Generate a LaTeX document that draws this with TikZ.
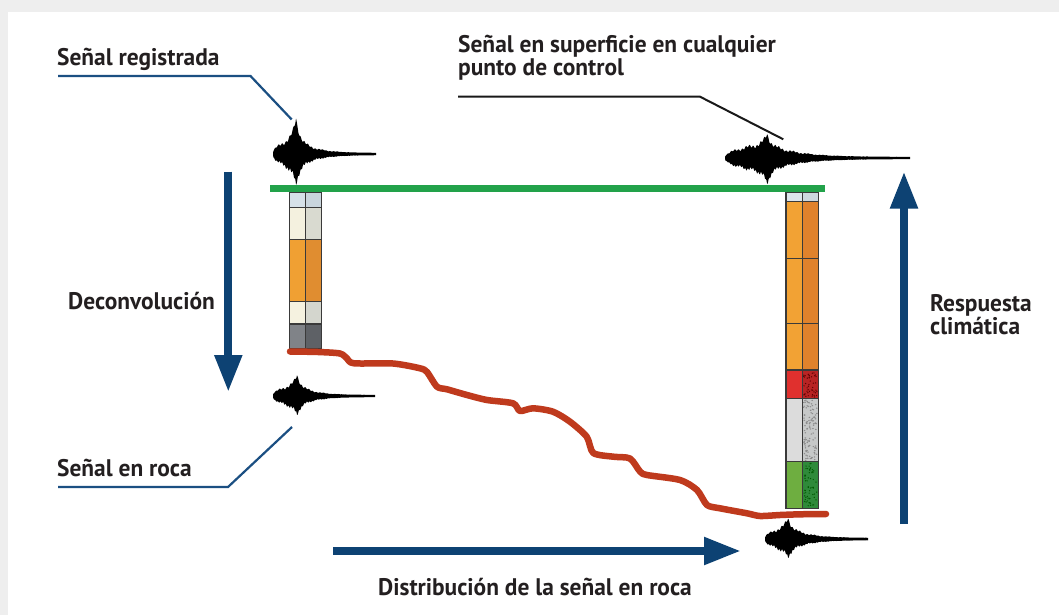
\documentclass[tikz,border=0pt]{standalone}
\usepackage{fontspec}
\usetikzlibrary{arrows.meta}
\newfontfamily\labfont{PT Sans}[FakeStretch=0.975]

\definecolor{pagegray}{HTML}{EEEEEE}
\definecolor{txt}{HTML}{231F20}
\definecolor{navy}{HTML}{0D4273}
\definecolor{leadblue}{HTML}{1B4F82}
\definecolor{surf}{HTML}{22A24A}
\definecolor{rock}{HTML}{BF3A1D}
\definecolor{cellline}{HTML}{3A3A3A}

\tikzset{
  lab/.style={inner sep=0pt, text=txt, align=left,
    font=\labfont\bfseries\fontsize{24}{22.5}\selectfont},
  leader/.style={draw=leadblue, line width=2.2pt},
  leaderk/.style={draw=black!90, line width=2pt},
  bigarrow/.style={draw=navy, line width=8pt,
    -{Triangle[width=26pt,length=37pt]}},
  cell/.style={draw=cellline, line width=1.2pt},
}

% seismogram: #1 centre x, #2 centre y, #3 left extent, #4 tail end (x),
% #5 body amplitude, #6 decay length, #7 spike up, #8 spike down
\newcommand\seismo[8]{%
  \fill[black]
    plot[domain=-#3:#4-#1, samples=260, variable=\u]
      ({#1+\u},{#2-((#5)*min(sqrt(max(0,1+\u/#3)),exp(-max(0,\u)/#6))
        *(0.8+0.2*sin(37*\u)*cos(61*\u))
        + (#7)*exp(-min(40,abs(\u)/3.6)) + 1.1)})
    -- plot[domain=#4-#1:-#3, samples=260, variable=\u]
      ({#1+\u},{#2+((#5)*min(sqrt(max(0,1+\u/#3)),exp(-max(0,\u)/#6))
        *(0.8+0.2*cos(53*\u)*sin(83*\u))
        + (#8)*exp(-min(40,abs(\u)/3.6)) + 1.1)})
    -- cycle;}

\begin{document}
\begin{tikzpicture}[x=1pt,y=-1pt]
\useasboundingbox (0,0) rectangle (1059,615);
\fill[pagegray] (0,0) rectangle (1059,615);
\fill[white] (8,12) rectangle (1059,615);

% ---- left borehole column
\foreach \ya/\yb/\cl/\cr in {192.7/207.3/D6E1E8/C9D5DD,
    207.3/239.3/F4F1DF/D9DAD0, 239.3/301.7/F0A033/E08D30,
    301.7/324/F5F2E0/D4D6CE, 324/348.3/808388/5E6166}{
  \definecolor{cl}{HTML}{\cl}\definecolor{cr}{HTML}{\cr}
  \fill[cl] (289.3,\ya) rectangle (305.7,\yb);
  \fill[cr] (305.7,\ya) rectangle (321.7,\yb);
  \draw[cell] (289.3,\ya) rectangle (305.7,\yb);
  \draw[cell] (305.7,\ya) rectangle (321.7,\yb);
}

% ---- right borehole column
\foreach \ya/\yb/\cl/\cr in {192.7/201.7/DDE6EC/CDD8DF,
    201.7/258.3/F2A234/E0822C, 258.3/323.3/F2A234/E0822C,
    323.3/370/F2A234/E0822C, 370/398.3/E0302E/B82424,
    398.3/461.7/DCDCDC/C6C8C8, 461.7/508.3/6EAE40/2F8A3A}{
  \definecolor{cl}{HTML}{\cl}\definecolor{cr}{HTML}{\cr}
  \fill[cl] (786,\ya) rectangle (802.3,\yb);
  \fill[cr] (802.3,\ya) rectangle (818.3,\yb);
}
% grain texture in the red, grey and green layers
\pgfmathsetseed{7}
\foreach \k in {1,...,45}{
  \pgfmathsetmacro\gx{803.5+13.6*rnd}\pgfmathsetmacro\gy{371.5+25.5*rnd}
  \fill[black!55!red!80!black] (\gx,\gy) circle (0.7);
}
\foreach \k in {1,...,110}{
  \pgfmathsetmacro\gx{803.5+13.6*rnd}\pgfmathsetmacro\gy{399.5+61*rnd}
  \fill[black!45] (\gx,\gy) ellipse (0.9 and 0.7);
}
\foreach \k in {1,...,60}{
  \pgfmathsetmacro\gx{803.5+13.6*rnd}\pgfmathsetmacro\gy{463+44*rnd}
  \fill[green!35!black] (\gx,\gy) circle (0.7);
}
\foreach \ya/\yb in {192.7/201.7, 201.7/258.3, 258.3/323.3, 323.3/370,
    370/398.3, 398.3/461.7, 461.7/508.3}{
  \draw[cell] (786,\ya) rectangle (802.3,\yb);
  \draw[cell] (802.3,\ya) rectangle (818.3,\yb);
}

% ---- ground surface
\draw[surf, line width=6.5pt] (270,188.5) -- (825,188.5);

% ---- top of bedrock
\draw[rock, line width=6.5pt, line cap=round, line join=round]
  plot[smooth, tension=0.45] coordinates {
   (290,351.5) (318,352) (340,353.5) (347,358.5) (354,363.3) (393,363.5)
   (420,368.3) (427,372) (437,386.7) (447,389.3) (467,395) (487,400)
   (513,403.3) (520,411) (533,408.3) (553,411.7) (570,421.7) (586.7,436.7)
   (593.3,453) (613.3,456.7) (630,458.5) (640,471.5) (647,475) (680,480)
   (697,490) (707,505) (720,508.3) (747,513.3) (760,516) (780,515)
   (800,514.3) (826,514)};

% ---- seismograms
\seismo{296}{154}{23}{376}{17}{17}{21}{16}
\seismo{767}{158}{42}{910}{16}{28}{10}{12}
\seismo{297}{396}{24}{375}{12}{16}{10}{8}
\seismo{788}{539}{23}{868}{13}{19}{9}{7}

% ---- process arrows
\coordinate (decA) at (228.3,171.7);
\coordinate (decB) at (228.3,392);
\coordinate (resA) at (904,524);
\coordinate (resB) at (904,171.5);
\coordinate (disA) at (333,551);
\coordinate (disB) at (741,551);
\draw[bigarrow] (decA) -- (decB);
\draw[bigarrow] (resA) -- (resB);
\draw[bigarrow] (disA) -- (disB);

% ---- labels (multi-line nodes sit on the baseline of their last line)
\node[lab, anchor=base west] (reg) at (57,65.5) {Señal registrada};
\node[lab, anchor=base west] (sup) at (458,75.5)
  {Señal en superficie en cualquier\\punto de control};
\node[lab, anchor=base west] (dec) at (68,309) {Deconvolución};
\node[lab, anchor=base west] (res) at (930,334) {Respuesta\\climática};
\node[lab, anchor=base west] (roc) at (57,476) {Señal en roca};
\node[lab, anchor=base west] (dis) at (378,595)
  {Distribución de la señal en roca};

% ---- leader lines
\coordinate (regA) at (58,76);
\coordinate (regB) at (250.5,76);
\coordinate (regC) at (291.7,119.5);
\draw[leader] (regA) -- (regB) -- (regC);
\coordinate (supA) at (458,96.7);
\coordinate (supB) at (700,96.7);
\coordinate (supC) at (783.3,139.3);
\draw[leaderk] (supA) -- (supB) -- (supC);
\coordinate (rocA) at (58,487);
\coordinate (rocB) at (228,487);
\coordinate (rocC) at (292,427);
\draw[leader] (rocA) -- (rocB) -- (rocC);
\end{tikzpicture}
\end{document}
